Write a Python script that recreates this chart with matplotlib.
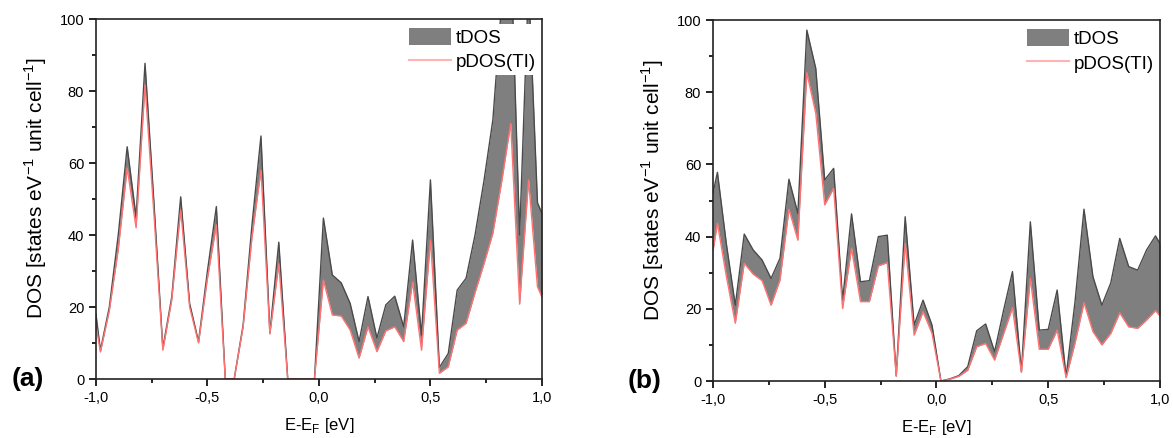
import matplotlib
matplotlib.use("Agg")
import matplotlib.pyplot as plt
from matplotlib.patches import Patch
from matplotlib.lines import Line2D
from matplotlib.ticker import MultipleLocator

plt.rcParams["font.family"] = ["Liberation Sans", "DejaVu Sans"]

# energy grid (eV), same for both panels
energy = [-1.00, -0.98, -0.94, -0.90, -0.86, -0.82, -0.78, -0.74, -0.70, -0.66,
          -0.62, -0.58, -0.54, -0.50, -0.46, -0.42, -0.38, -0.34, -0.30, -0.26,
          -0.22, -0.18, -0.14, -0.10, -0.06, -0.02, 0.02, 0.06, 0.10, 0.14,
          0.18, 0.22, 0.26, 0.30, 0.34, 0.38, 0.42, 0.46, 0.50, 0.54,
          0.58, 0.62, 0.66, 0.70, 0.74, 0.78, 0.82, 0.86, 0.90, 0.94,
          0.98, 1.00]

# panel (a)
tdos_a = [18, 8, 20, 40, 64.5, 45, 87.7, 49, 8.6, 22.8,
          50.6, 21, 10.4, 30, 47.9, 0, 0, 15, 43, 67.5,
          12.8, 38, 0, 0, 0, 0, 44.7, 28.9, 26.7, 21,
          10.4, 22.9, 11.4, 20.6, 23, 14.5, 38.6, 12.2, 55.3, 3.2,
          7.1, 24.7, 28, 40, 55, 72, 105, 120, 40, 110,
          49, 46]
pdos_a = [15, 7.5, 19, 36, 58.6, 42, 81.7, 45.8, 8, 22,
          47, 20, 10, 28, 42.8, 0, 0, 14.5, 39.5, 58,
          12.5, 32, 0, 0, 0, 0, 27.5, 17.8, 17.5, 13.6,
          5.8, 14.5, 7.6, 13.4, 14.5, 10.4, 27, 8, 38.6, 1.6,
          3.4, 13.6, 15.5, 24, 32, 40.5, 55, 71, 20.8, 55.3,
          25.6, 22.8]

# panel (b)
tdos_b = [52, 57.8, 38, 21, 40.7, 36.3, 33.5, 28.4, 34, 55.9,
          46.4, 97.2, 86.6, 55.7, 58.9, 22.4, 46.3, 27.5, 27.8, 40,
          40.4, 1.4, 45.5, 15.5, 22.4, 15.5, 0, 0.6, 1.5, 4,
          13.9, 15.8, 8.1, 19.5, 30.3, 2.6, 44.1, 14.1, 14.3, 25.2,
          1.2, 22, 47.6, 28.9, 21, 27.2, 39.5, 31.7, 30.7, 36.3,
          40.2, 38.1]
pdos_b = [36, 43.7, 29, 16, 32.6, 29.6, 27.8, 21, 28, 47.6,
          39, 85.4, 74.2, 48.8, 53.4, 20.1, 36.8, 22, 22, 31.9,
          32.8, 1.4, 38.1, 12.7, 19.2, 13.2, 0, 0.5, 1.3, 3,
          9.5, 10.4, 5.8, 13, 20.3, 2.4, 28.4, 8.8, 8.8, 14.1,
          0.9, 10.5, 21.7, 13.7, 10, 13.2, 18.9, 15, 14.6, 16.9,
          19.5, 18]

xticks = [-1.0, -0.5, 0.0, 0.5, 1.0]
xtick_labels = ["-1,0", "-0,5", "0,0", "0,5", "1,0"]
yticks = [0, 20, 40, 60, 80, 100]

fill_color = "#7f7f7f"
edge_color = "#4a4a4a"
red_color = "#ff7373"

fig = plt.figure(figsize=(11.73, 4.38), dpi=100)
ax_a = fig.add_axes([0.0818, 0.1347, 0.3802, 0.8219])
ax_b = fig.add_axes([0.6078, 0.1301, 0.3811, 0.8242])

for ax, tdos, pdos, tag in [(ax_a, tdos_a, pdos_a, "(a)"), (ax_b, tdos_b, pdos_b, "(b)")]:
    ax.fill_between(energy, pdos, tdos, color=fill_color, linewidth=0)
    ax.plot(energy, tdos, color=edge_color, lw=1.0)
    ax.plot(energy, pdos, color=red_color, lw=1.0)
    ax.set_xlim(-1, 1)
    ax.set_ylim(0, 100)
    ax.set_xticks(xticks)
    ax.set_xticklabels(xtick_labels)
    ax.set_yticks(yticks)
    ax.xaxis.set_minor_locator(MultipleLocator(0.25))
    ax.yaxis.set_minor_locator(MultipleLocator(10))
    ax.tick_params(which="both", direction="out", top=False, right=False,
                   labelsize=10.5, width=1.2)
    ax.tick_params(which="major", length=5)
    ax.tick_params(which="minor", length=3)
    for s in ax.spines.values():
        s.set_linewidth(1.2)
        s.set_color("#222222")
    ax.set_xlabel("E-E$_\\mathregular{F}$ [eV]", fontsize=12, labelpad=8)
    ax.set_ylabel("DOS [states eV$^\\mathregular{-1}$ unit cell$^\\mathregular{-1}$]",
                  fontsize=15)
    ax.yaxis.set_label_coords(-0.105, 0.53)
    handles = [Patch(facecolor=fill_color, edgecolor="none"),
               Line2D([0], [0], color="#ffb3b3", lw=1.5)]
    leg = ax.legend(handles, ["tDOS", "pDOS(TI)"], loc="upper right",
                    bbox_to_anchor=(1.0, 0.99), fontsize=13.5, frameon=True,
                    framealpha=1, facecolor="white", edgecolor="none",
                    handlelength=2.2, handleheight=1.0, handletextpad=0.3,
                    labelspacing=0.3, borderpad=0.2, borderaxespad=0.1,
                    fancybox=False)
    ax.text(-0.19, 0.0, tag, transform=ax.transAxes, fontsize=19,
            fontweight="bold", va="center", ha="left")

fig.savefig("out.png", dpi=100)
